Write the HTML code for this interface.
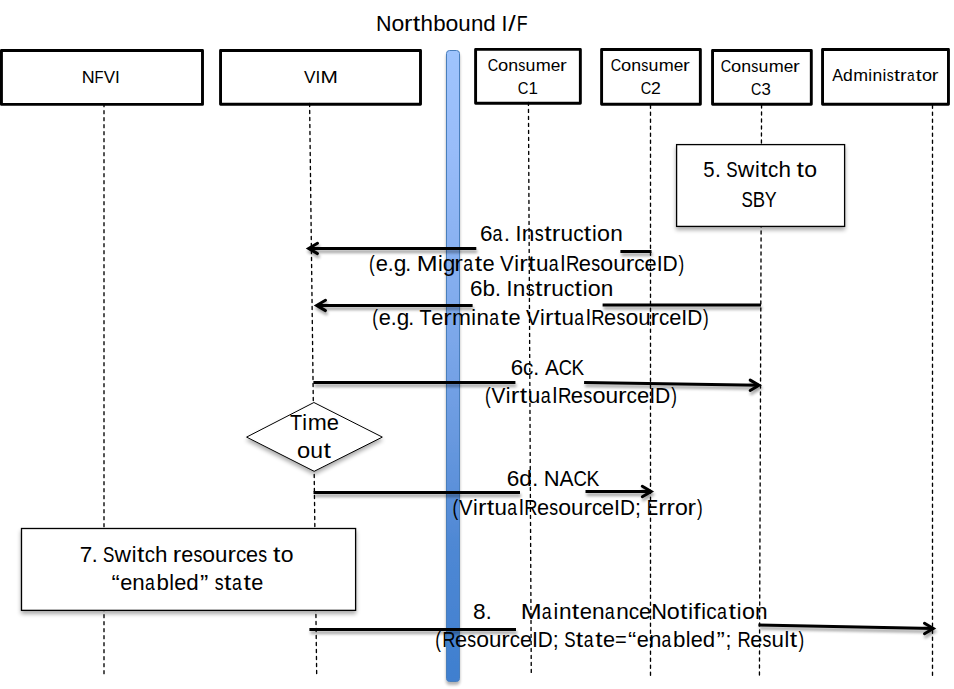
<!DOCTYPE html>
<html><head><meta charset="utf-8"><style>html,body{margin:0;padding:0;background:#fff;}svg{display:block;}</style></head>
<body>
<svg width="954" height="689" viewBox="0 0 954 689">
<defs>
<linearGradient id="bar" x1="0" y1="0" x2="0" y2="1">
<stop offset="0" stop-color="#9fc4fd"/>
<stop offset="0.16" stop-color="#98bcf9"/>
<stop offset="0.47" stop-color="#7aa6e9"/>
<stop offset="0.60" stop-color="#6a9ae0"/>
<stop offset="0.78" stop-color="#4f88d4"/>
<stop offset="1" stop-color="#3f7fcf"/>
</linearGradient>
<filter id="sh" x="-20%" y="-20%" width="140%" height="160%">
<feGaussianBlur in="SourceAlpha" stdDeviation="1.6"/>
<feOffset dx="0.6" dy="3" result="b"/>
<feComponentTransfer><feFuncA type="linear" slope="0.38"/></feComponentTransfer>
<feMerge><feMergeNode/><feMergeNode in="SourceGraphic"/></feMerge>
</filter>
<filter id="shbox" x="-10%" y="-10%" width="120%" height="130%">
<feGaussianBlur in="SourceAlpha" stdDeviation="1.9"/>
<feOffset dx="0.3" dy="2.6" result="b"/>
<feComponentTransfer><feFuncA type="linear" slope="0.34"/></feComponentTransfer>
<feMerge><feMergeNode/><feMergeNode in="SourceGraphic"/></feMerge>
</filter>
<filter id="shb" x="-100%" y="-5%" width="300%" height="110%">
<feGaussianBlur in="SourceAlpha" stdDeviation="1.8"/>
<feOffset dx="0" dy="2.6" result="b"/>
<feComponentTransfer><feFuncA type="linear" slope="0.3"/></feComponentTransfer>
<feMerge><feMergeNode/><feMergeNode in="SourceGraphic"/></feMerge>
</filter>
</defs>
<rect width="954" height="689" fill="#fff"/>

<g fill="#fff" stroke="#000" stroke-width="2.9" stroke-linejoin="round">
<rect x="1.45" y="50.45" width="201.05" height="53.95"/>
<rect x="220.55" y="50.45" width="199.95" height="53.85"/>
<rect x="475.60" y="49.40" width="104.75" height="53.90"/>
<rect x="601.60" y="49.50" width="98.75" height="54.80"/>
<rect x="712.55" y="50.45" width="98.75" height="53.75"/>
<rect x="822.55" y="49.55" width="125.90" height="54.65"/>
</g>
<rect x="446.5" y="50.5" width="13" height="631" rx="3" fill="url(#bar)" stroke="#4a7ebb" stroke-width="1" filter="url(#shb)"/>
<g fill="none" stroke="#000" stroke-width="3" filter="url(#sh)">
<g><path d="M476.3 248.4L308.7 248.4"/><path d="M317.50 243.20L308.70 248.40L317.50 253.60" stroke-linecap="round" stroke-linejoin="miter" stroke-miterlimit="10"/></g>
<path d="M620.4 251.5L651.5 251.5"/>
<g><path d="M472.6 305.4L316.7 305.4"/><path d="M325.50 300.20L316.70 305.40L325.50 310.60" stroke-linecap="round" stroke-linejoin="miter" stroke-miterlimit="10"/></g>
<path d="M602.6 305.1L761 305.1"/>
<path d="M313.4 382.4L515.4 382.4"/>
<g><path d="M584.1 382.6L759 385.3"/><path d="M750.20 380.10L759.00 385.30L750.20 390.50" stroke-linecap="round" stroke-linejoin="miter" stroke-miterlimit="10"/></g>
<path d="M313.5 492.4L520 492.4"/>
<g><path d="M585.5 491.4L651.1 491.5"/><path d="M642.30 486.30L651.10 491.50L642.30 496.70" stroke-linecap="round" stroke-linejoin="miter" stroke-miterlimit="10"/></g>
<path d="M309.4 629.5L516 629.5"/>
<g><path d="M758.4 625.1L933.3 628.5"/><path d="M924.50 623.30L933.30 628.50L924.50 633.70" stroke-linecap="round" stroke-linejoin="miter" stroke-miterlimit="10"/></g>
</g>
<g stroke="#000" stroke-width="1.35" stroke-dasharray="3 4" stroke-linecap="round">
<line x1="104.00" y1="103.67" x2="104.00" y2="673.70"/>
<line x1="309.60" y1="103.50" x2="316.67" y2="674.00"/>
<line x1="528.45" y1="102.40" x2="531.27" y2="673.00"/>
<line x1="650.50" y1="105.20" x2="650.50" y2="676.00"/>
<line x1="761.57" y1="105.00" x2="759.44" y2="676.00"/>
<line x1="932.50" y1="105.20" x2="932.50" y2="676.00"/>
</g>
<g fill="#fff" stroke="#000" stroke-width="1.3" filter="url(#shbox)">
<rect x="676.6" y="144.6" width="168" height="81.8"/>
<rect x="21.5" y="528.5" width="334.1" height="81.85"/>
<path d="M313.9 402.5L382.3 437.1L314.2 471.3L246.6 437.1Z" stroke-width="1"/>
</g>
<g font-family="&quot;Liberation Sans&quot;, sans-serif" fill="#000">
<g font-size="21.3" aria-label="Northbound I/F"><text transform="translate(376.02 30.75) scale(1.007 1)">N</text><text transform="translate(391.40 30.75) scale(1.080 1)">o</text><text transform="translate(403.96 30.75) scale(1.191 1)">r</text><text transform="translate(412.65 30.75) scale(1.250 1)">t</text><text transform="translate(420.59 30.75) scale(1.051 1)">h</text><text transform="translate(433.29 30.75) scale(1.047 1)">b</text><text transform="translate(445.52 30.75) scale(1.080 1)">o</text><text transform="translate(458.24 30.75) scale(1.047 1)">u</text><text transform="translate(470.95 30.75) scale(1.047 1)">n</text><text transform="translate(483.30 30.75) scale(1.047 1)">d</text><text transform="translate(501.40 30.75) scale(1.000 1)">I</text><text transform="translate(508.28 30.75) scale(1.250 1)">/</text><text transform="translate(516.78 30.75) scale(0.835 1)">F</text></g>
<g font-size="21.3" aria-label="5. Switch to"><text transform="translate(703.13 177.25) scale(0.955 1)">5</text><text transform="translate(715.05 177.25) scale(1.000 1)">.</text><text transform="translate(726.20 177.25) scale(0.800 1)">S</text><text transform="translate(737.77 177.25) scale(1.077 1)">w</text><text transform="translate(755.01 177.25) scale(1.000 1)">i</text><text transform="translate(760.33 177.25) scale(1.250 1)">t</text><text transform="translate(768.10 177.25) scale(0.965 1)">c</text><text transform="translate(778.42 177.25) scale(1.053 1)">h</text><text transform="translate(796.53 177.25) scale(1.250 1)">t</text><text transform="translate(804.26 177.25) scale(1.083 1)">o</text></g>
<g font-size="21.3" aria-label="SBY"><text transform="translate(741.61 206.55) scale(0.800 1)">S</text><text transform="translate(752.70 206.55) scale(0.867 1)">B</text><text transform="translate(764.64 206.55) scale(0.838 1)">Y</text></g>
<g font-size="21.3" aria-label="6a. Instruction"><text transform="translate(479.94 241.45) scale(1.055 1)">6</text><text transform="translate(492.52 241.45) scale(0.835 1)">a</text><text transform="translate(504.00 241.45) scale(1.000 1)">.</text><text transform="translate(515.62 241.45) scale(1.000 1)">I</text><text transform="translate(521.79 241.45) scale(1.062 1)">n</text><text transform="translate(534.72 241.45) scale(0.845 1)">s</text><text transform="translate(544.13 241.45) scale(1.250 1)">t</text><text transform="translate(551.85 241.45) scale(1.208 1)">r</text><text transform="translate(560.48 241.45) scale(1.062 1)">u</text><text transform="translate(573.16 241.45) scale(0.977 1)">c</text><text transform="translate(583.73 241.45) scale(1.250 1)">t</text><text transform="translate(592.02 241.45) scale(1.000 1)">i</text><text transform="translate(597.08 241.45) scale(1.096 1)">o</text><text transform="translate(610.13 241.45) scale(1.062 1)">n</text></g>
<g font-size="21.3" aria-label="(e.g. Migrate VirtualResourceID)"><text transform="translate(369.05 270.55) scale(0.800 1)">(</text><text transform="translate(375.67 270.55) scale(1.028 1)">e</text><text transform="translate(387.84 270.55) scale(1.000 1)">.</text><text transform="translate(393.66 270.55) scale(1.066 1)">g</text><text transform="translate(405.33 270.55) scale(1.000 1)">.</text><text transform="translate(416.74 270.55) scale(1.175 1)">M</text><text transform="translate(437.91 270.55) scale(1.000 1)">i</text><text transform="translate(442.86 270.55) scale(1.066 1)">g</text><text transform="translate(454.29 270.55) scale(1.205 1)">r</text><text transform="translate(463.13 270.55) scale(0.832 1)">a</text><text transform="translate(474.71 270.55) scale(1.250 1)">t</text><text transform="translate(482.53 270.55) scale(1.028 1)">e</text><text transform="translate(500.06 270.55) scale(0.969 1)">V</text><text transform="translate(514.21 270.55) scale(1.000 1)">i</text><text transform="translate(519.20 270.55) scale(1.205 1)">r</text><text transform="translate(528.04 270.55) scale(1.250 1)">t</text><text transform="translate(535.91 270.55) scale(1.059 1)">u</text><text transform="translate(548.85 270.55) scale(0.832 1)">a</text><text transform="translate(560.60 270.55) scale(1.000 1)">l</text><text transform="translate(565.97 270.55) scale(0.873 1)">R</text><text transform="translate(578.85 270.55) scale(1.028 1)">e</text><text transform="translate(591.26 270.55) scale(0.842 1)">s</text><text transform="translate(600.30 270.55) scale(1.092 1)">o</text><text transform="translate(613.17 270.55) scale(1.059 1)">u</text><text transform="translate(625.71 270.55) scale(1.205 1)">r</text><text transform="translate(634.23 270.55) scale(0.974 1)">c</text><text transform="translate(644.48 270.55) scale(1.028 1)">e</text><text transform="translate(656.65 270.55) scale(1.000 1)">I</text><text transform="translate(662.58 270.55) scale(0.986 1)">D</text><text transform="translate(678.57 270.55) scale(0.800 1)">)</text></g>
<g font-size="21.3" aria-label="6b. Instruction"><text transform="translate(469.94 295.55) scale(1.052 1)">6</text><text transform="translate(482.49 295.55) scale(1.058 1)">b</text><text transform="translate(495.04 295.55) scale(1.000 1)">.</text><text transform="translate(506.62 295.55) scale(1.000 1)">I</text><text transform="translate(512.78 295.55) scale(1.059 1)">n</text><text transform="translate(525.66 295.55) scale(0.842 1)">s</text><text transform="translate(535.03 295.55) scale(1.250 1)">t</text><text transform="translate(542.73 295.55) scale(1.204 1)">r</text><text transform="translate(551.34 295.55) scale(1.059 1)">u</text><text transform="translate(563.97 295.55) scale(0.974 1)">c</text><text transform="translate(574.50 295.55) scale(1.250 1)">t</text><text transform="translate(582.77 295.55) scale(1.000 1)">i</text><text transform="translate(587.82 295.55) scale(1.092 1)">o</text><text transform="translate(600.83 295.55) scale(1.059 1)">n</text></g>
<g font-size="21.3" aria-label="(e.g. Terminate VirtualResourceID)"><text transform="translate(372.19 324.55) scale(0.800 1)">(</text><text transform="translate(378.78 324.55) scale(1.021 1)">e</text><text transform="translate(390.84 324.55) scale(1.000 1)">.</text><text transform="translate(396.64 324.55) scale(1.058 1)">g</text><text transform="translate(408.20 324.55) scale(1.000 1)">.</text><text transform="translate(419.47 324.55) scale(0.925 1)">T</text><text transform="translate(431.30 324.55) scale(1.021 1)">e</text><text transform="translate(443.13 324.55) scale(1.196 1)">r</text><text transform="translate(451.89 324.55) scale(1.067 1)">m</text><text transform="translate(471.23 324.55) scale(1.000 1)">i</text><text transform="translate(476.52 324.55) scale(1.051 1)">n</text><text transform="translate(489.22 324.55) scale(0.826 1)">a</text><text transform="translate(500.70 324.55) scale(1.250 1)">t</text><text transform="translate(508.48 324.55) scale(1.021 1)">e</text><text transform="translate(525.89 324.55) scale(0.962 1)">V</text><text transform="translate(539.91 324.55) scale(1.000 1)">i</text><text transform="translate(544.90 324.55) scale(1.196 1)">r</text><text transform="translate(553.63 324.55) scale(1.250 1)">t</text><text transform="translate(561.48 324.55) scale(1.051 1)">u</text><text transform="translate(574.33 324.55) scale(0.826 1)">a</text><text transform="translate(585.98 324.55) scale(1.000 1)">l</text><text transform="translate(591.31 324.55) scale(0.867 1)">R</text><text transform="translate(604.10 324.55) scale(1.021 1)">e</text><text transform="translate(616.42 324.55) scale(0.836 1)">s</text><text transform="translate(625.40 324.55) scale(1.084 1)">o</text><text transform="translate(638.17 324.55) scale(1.051 1)">u</text><text transform="translate(650.62 324.55) scale(1.196 1)">r</text><text transform="translate(659.09 324.55) scale(0.967 1)">c</text><text transform="translate(669.26 324.55) scale(1.021 1)">e</text><text transform="translate(681.32 324.55) scale(1.000 1)">I</text><text transform="translate(687.22 324.55) scale(0.979 1)">D</text><text transform="translate(703.08 324.55) scale(0.800 1)">)</text></g>
<g font-size="21.3" aria-label="6c. ACK"><text transform="translate(510.85 374.55) scale(1.048 1)">6</text><text transform="translate(523.04 374.55) scale(0.970 1)">c</text><text transform="translate(533.37 374.55) scale(1.000 1)">.</text><text transform="translate(544.89 374.55) scale(0.975 1)">A</text><text transform="translate(558.63 374.55) scale(0.859 1)">C</text><text transform="translate(571.52 374.55) scale(0.891 1)">K</text></g>
<g font-size="21.3" aria-label="(VirtualResourceID)"><text transform="translate(484.92 403.35) scale(0.800 1)">(</text><text transform="translate(491.58 403.35) scale(0.975 1)">V</text><text transform="translate(505.83 403.35) scale(1.000 1)">i</text><text transform="translate(510.84 403.35) scale(1.212 1)">r</text><text transform="translate(519.76 403.35) scale(1.250 1)">t</text><text transform="translate(527.65 403.35) scale(1.066 1)">u</text><text transform="translate(540.67 403.35) scale(0.838 1)">a</text><text transform="translate(552.52 403.35) scale(1.000 1)">l</text><text transform="translate(557.90 403.35) scale(0.879 1)">R</text><text transform="translate(570.87 403.35) scale(1.035 1)">e</text><text transform="translate(583.35 403.35) scale(0.847 1)">s</text><text transform="translate(592.46 403.35) scale(1.099 1)">o</text><text transform="translate(605.40 403.35) scale(1.066 1)">u</text><text transform="translate(618.02 403.35) scale(1.212 1)">r</text><text transform="translate(626.59 403.35) scale(0.980 1)">c</text><text transform="translate(636.92 403.35) scale(1.035 1)">e</text><text transform="translate(649.18 403.35) scale(1.000 1)">I</text><text transform="translate(655.12 403.35) scale(0.992 1)">D</text><text transform="translate(671.23 403.35) scale(0.800 1)">)</text></g>
<g font-size="21.3" aria-label="Time"><text transform="translate(289.94 429.55) scale(0.932 1)">T</text><text transform="translate(302.28 429.55) scale(1.000 1)">i</text><text transform="translate(307.66 429.55) scale(1.075 1)">m</text><text transform="translate(326.74 429.55) scale(1.029 1)">e</text></g>
<g font-size="21.3" aria-label="out"><text transform="translate(297.03 458.35) scale(1.114 1)">o</text><text transform="translate(310.15 458.35) scale(1.080 1)">u</text><text transform="translate(323.42 458.35) scale(1.250 1)">t</text></g>
<g font-size="21.3" aria-label="6d. NACK"><text transform="translate(506.78 485.55) scale(1.062 1)">6</text><text transform="translate(519.14 485.55) scale(1.069 1)">d</text><text transform="translate(532.17 485.55) scale(1.000 1)">.</text><text transform="translate(543.72 485.55) scale(1.029 1)">N</text><text transform="translate(559.59 485.55) scale(0.989 1)">A</text><text transform="translate(573.52 485.55) scale(0.871 1)">C</text><text transform="translate(586.60 485.55) scale(0.903 1)">K</text></g>
<g font-size="21.3" aria-label="(VirtualResourceID; Error)"><text transform="translate(452.38 514.55) scale(0.800 1)">(</text><text transform="translate(458.99 514.55) scale(0.960 1)">V</text><text transform="translate(472.99 514.55) scale(1.000 1)">i</text><text transform="translate(477.95 514.55) scale(1.193 1)">r</text><text transform="translate(486.67 514.55) scale(1.250 1)">t</text><text transform="translate(494.50 514.55) scale(1.049 1)">u</text><text transform="translate(507.32 514.55) scale(0.825 1)">a</text><text transform="translate(518.94 514.55) scale(1.000 1)">l</text><text transform="translate(524.28 514.55) scale(0.865 1)">R</text><text transform="translate(537.04 514.55) scale(1.019 1)">e</text><text transform="translate(549.33 514.55) scale(0.834 1)">s</text><text transform="translate(558.29 514.55) scale(1.082 1)">o</text><text transform="translate(571.03 514.55) scale(1.049 1)">u</text><text transform="translate(583.46 514.55) scale(1.193 1)">r</text><text transform="translate(591.90 514.55) scale(0.965 1)">c</text><text transform="translate(602.06 514.55) scale(1.019 1)">e</text><text transform="translate(614.08 514.55) scale(1.000 1)">I</text><text transform="translate(619.98 514.55) scale(0.977 1)">D</text><text transform="translate(635.04 514.55) scale(1.000 1)">;</text><text transform="translate(646.81 514.55) scale(0.800 1)">E</text><text transform="translate(658.18 514.55) scale(1.193 1)">r</text><text transform="translate(666.54 514.55) scale(1.193 1)">r</text><text transform="translate(674.96 514.55) scale(1.082 1)">o</text><text transform="translate(687.53 514.55) scale(1.193 1)">r</text><text transform="translate(697.04 514.55) scale(0.800 1)">)</text></g>
<g font-size="21.3" aria-label="7. Switch resources to"><text transform="translate(79.70 561.65) scale(1.054 1)">7</text><text transform="translate(91.86 561.65) scale(1.000 1)">.</text><text transform="translate(102.96 561.65) scale(0.800 1)">S</text><text transform="translate(114.52 561.65) scale(1.073 1)">w</text><text transform="translate(131.69 561.65) scale(1.000 1)">i</text><text transform="translate(136.99 561.65) scale(1.250 1)">t</text><text transform="translate(144.75 561.65) scale(0.962 1)">c</text><text transform="translate(155.04 561.65) scale(1.050 1)">h</text><text transform="translate(172.74 561.65) scale(1.190 1)">r</text><text transform="translate(181.17 561.65) scale(1.016 1)">e</text><text transform="translate(193.43 561.65) scale(0.832 1)">s</text><text transform="translate(202.37 561.65) scale(1.079 1)">o</text><text transform="translate(215.08 561.65) scale(1.046 1)">u</text><text transform="translate(227.47 561.65) scale(1.190 1)">r</text><text transform="translate(235.90 561.65) scale(0.962 1)">c</text><text transform="translate(246.02 561.65) scale(1.016 1)">e</text><text transform="translate(258.28 561.65) scale(0.832 1)">s</text><text transform="translate(272.90 561.65) scale(1.250 1)">t</text><text transform="translate(280.63 561.65) scale(1.079 1)">o</text></g>
<g font-size="21.3" aria-label="“enabled” state"><text transform="translate(111.43 590.45) scale(1.174 1)">“</text><text transform="translate(120.18 590.45) scale(1.019 1)">e</text><text transform="translate(132.32 590.45) scale(1.049 1)">n</text><text transform="translate(145.00 590.45) scale(0.825 1)">a</text><text transform="translate(156.48 590.45) scale(1.049 1)">b</text><text transform="translate(169.21 590.45) scale(1.000 1)">l</text><text transform="translate(174.30 590.45) scale(1.019 1)">e</text><text transform="translate(186.20 590.45) scale(1.049 1)">d</text><text transform="translate(199.92 590.45) scale(1.172 1)">”</text><text transform="translate(214.64 590.45) scale(0.834 1)">s</text><text transform="translate(223.90 590.45) scale(1.250 1)">t</text><text transform="translate(231.96 590.45) scale(0.825 1)">a</text><text transform="translate(243.41 590.45) scale(1.250 1)">t</text><text transform="translate(251.20 590.45) scale(1.019 1)">e</text></g>
<g font-size="21.3" aria-label="8."><text transform="translate(472.92 618.65) scale(1.064 1)">8</text><text transform="translate(485.70 618.65) scale(1.000 1)">.</text></g>
<g font-size="21.3" aria-label="MaintenanceNotification"><text transform="translate(520.75 618.65) scale(1.179 1)">M</text><text transform="translate(541.82 618.65) scale(0.835 1)">a</text><text transform="translate(553.62 618.65) scale(1.000 1)">i</text><text transform="translate(558.94 618.65) scale(1.063 1)">n</text><text transform="translate(571.79 618.65) scale(1.250 1)">t</text><text transform="translate(579.63 618.65) scale(1.032 1)">e</text><text transform="translate(591.91 618.65) scale(1.063 1)">n</text><text transform="translate(604.75 618.65) scale(0.835 1)">a</text><text transform="translate(616.30 618.65) scale(1.063 1)">n</text><text transform="translate(628.83 618.65) scale(0.977 1)">c</text><text transform="translate(639.11 618.65) scale(1.032 1)">e</text><text transform="translate(651.20 618.65) scale(1.022 1)">N</text><text transform="translate(666.82 618.65) scale(1.096 1)">o</text><text transform="translate(679.97 618.65) scale(1.250 1)">t</text><text transform="translate(688.25 618.65) scale(1.000 1)">i</text><text transform="translate(693.34 618.65) scale(1.232 1)">f</text><text transform="translate(701.24 618.65) scale(1.000 1)">i</text><text transform="translate(706.33 618.65) scale(0.977 1)">c</text><text transform="translate(716.91 618.65) scale(0.835 1)">a</text><text transform="translate(728.54 618.65) scale(1.250 1)">t</text><text transform="translate(736.84 618.65) scale(1.000 1)">i</text><text transform="translate(741.91 618.65) scale(1.096 1)">o</text><text transform="translate(754.96 618.65) scale(1.063 1)">n</text></g>
<g font-size="21.3" aria-label="(ResourceID; State=“enabled”; Result)"><text transform="translate(435.33 647.35) scale(0.800 1)">(</text><text transform="translate(442.16 647.35) scale(0.864 1)">R</text><text transform="translate(454.91 647.35) scale(1.018 1)">e</text><text transform="translate(467.21 647.35) scale(0.833 1)">s</text><text transform="translate(476.15 647.35) scale(1.081 1)">o</text><text transform="translate(488.88 647.35) scale(1.048 1)">u</text><text transform="translate(501.29 647.35) scale(1.192 1)">r</text><text transform="translate(509.74 647.35) scale(0.964 1)">c</text><text transform="translate(519.88 647.35) scale(1.018 1)">e</text><text transform="translate(531.91 647.35) scale(1.000 1)">I</text><text transform="translate(537.80 647.35) scale(0.976 1)">D</text><text transform="translate(552.85 647.35) scale(1.000 1)">;</text><text transform="translate(564.16 647.35) scale(0.800 1)">S</text><text transform="translate(575.64 647.35) scale(1.250 1)">t</text><text transform="translate(583.69 647.35) scale(0.824 1)">a</text><text transform="translate(595.13 647.35) scale(1.250 1)">t</text><text transform="translate(602.90 647.35) scale(1.018 1)">e</text><text transform="translate(615.00 647.35) scale(0.939 1)">=</text><text transform="translate(628.03 647.35) scale(1.173 1)">“</text><text transform="translate(636.77 647.35) scale(1.018 1)">e</text><text transform="translate(648.89 647.35) scale(1.048 1)">n</text><text transform="translate(661.56 647.35) scale(0.824 1)">a</text><text transform="translate(673.02 647.35) scale(1.047 1)">b</text><text transform="translate(685.74 647.35) scale(1.000 1)">l</text><text transform="translate(690.82 647.35) scale(1.018 1)">e</text><text transform="translate(702.70 647.35) scale(1.047 1)">d</text><text transform="translate(716.41 647.35) scale(1.171 1)">”</text><text transform="translate(725.61 647.35) scale(1.000 1)">;</text><text transform="translate(737.41 647.35) scale(0.864 1)">R</text><text transform="translate(750.16 647.35) scale(1.018 1)">e</text><text transform="translate(762.44 647.35) scale(0.833 1)">s</text><text transform="translate(771.50 647.35) scale(1.048 1)">u</text><text transform="translate(784.44 647.35) scale(1.000 1)">l</text><text transform="translate(789.77 647.35) scale(1.250 1)">t</text><text transform="translate(798.58 647.35) scale(0.800 1)">)</text></g>
<g font-size="17.2" aria-label="NFVI"><text transform="translate(81.63 82.55) scale(1.039 1)">N</text><text transform="translate(94.62 82.55) scale(0.861 1)">F</text><text transform="translate(103.63 82.55) scale(0.988 1)">V</text><text transform="translate(115.05 82.55) scale(1.000 1)">I</text></g>
<g font-size="17.2" aria-label="VIM"><text transform="translate(304.01 82.55) scale(1.000 1)">V</text><text transform="translate(315.60 82.55) scale(1.000 1)">I</text><text transform="translate(320.46 82.55) scale(1.212 1)">M</text></g>
<g font-size="17.2" aria-label="Consumer"><text transform="translate(487.73 70.85) scale(0.842 1)">C</text><text transform="translate(497.92 70.85) scale(1.066 1)">o</text><text transform="translate(508.17 70.85) scale(1.034 1)">n</text><text transform="translate(518.31 70.85) scale(0.822 1)">s</text><text transform="translate(525.52 70.85) scale(1.034 1)">u</text><text transform="translate(535.69 70.85) scale(1.049 1)">m</text><text transform="translate(550.71 70.85) scale(1.004 1)">e</text><text transform="translate(560.10 70.85) scale(1.176 1)">r</text></g>
<g font-size="17.2" aria-label="C1"><text transform="translate(517.77 93.65) scale(0.859 1)">C</text><text transform="translate(528.62 93.65) scale(0.985 1)">1</text></g>
<g font-size="17.2" aria-label="Consumer"><text transform="translate(610.73 70.85) scale(0.842 1)">C</text><text transform="translate(620.92 70.85) scale(1.066 1)">o</text><text transform="translate(631.17 70.85) scale(1.034 1)">n</text><text transform="translate(641.31 70.85) scale(0.822 1)">s</text><text transform="translate(648.52 70.85) scale(1.034 1)">u</text><text transform="translate(658.69 70.85) scale(1.049 1)">m</text><text transform="translate(673.71 70.85) scale(1.004 1)">e</text><text transform="translate(683.10 70.85) scale(1.176 1)">r</text></g>
<g font-size="17.2" aria-label="C2"><text transform="translate(640.77 93.65) scale(0.847 1)">C</text><text transform="translate(651.07 93.65) scale(1.027 1)">2</text></g>
<g font-size="17.2" aria-label="Consumer"><text transform="translate(720.78 71.65) scale(0.841 1)">C</text><text transform="translate(730.96 71.65) scale(1.066 1)">o</text><text transform="translate(741.21 71.65) scale(1.033 1)">n</text><text transform="translate(751.34 71.65) scale(0.821 1)">s</text><text transform="translate(758.55 71.65) scale(1.033 1)">u</text><text transform="translate(768.71 71.65) scale(1.049 1)">m</text><text transform="translate(783.72 71.65) scale(1.003 1)">e</text><text transform="translate(793.11 71.65) scale(1.175 1)">r</text></g>
<g font-size="17.2" aria-label="C3"><text transform="translate(751.08 94.75) scale(0.833 1)">C</text><text transform="translate(761.48 94.75) scale(0.977 1)">3</text></g>
<g font-size="17.2" aria-label="Administrator"><text transform="translate(832.29 81.35) scale(0.942 1)">A</text><text transform="translate(843.06 81.35) scale(1.019 1)">d</text><text transform="translate(853.17 81.35) scale(1.035 1)">m</text><text transform="translate(868.24 81.35) scale(1.000 1)">i</text><text transform="translate(872.44 81.35) scale(1.019 1)">n</text><text transform="translate(882.44 81.35) scale(1.000 1)">i</text><text transform="translate(886.77 81.35) scale(0.811 1)">s</text><text transform="translate(893.94 81.35) scale(1.250 1)">t</text><text transform="translate(900.05 81.35) scale(1.160 1)">r</text><text transform="translate(906.90 81.35) scale(0.801 1)">a</text><text transform="translate(915.79 81.35) scale(1.250 1)">t</text><text transform="translate(921.95 81.35) scale(1.052 1)">o</text><text transform="translate(931.82 81.35) scale(1.160 1)">r</text></g>
</g>
</svg>
</body></html>
